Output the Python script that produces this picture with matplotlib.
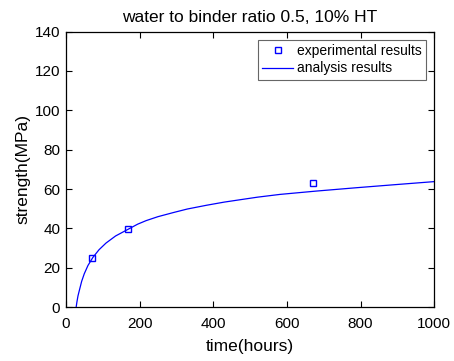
import matplotlib
matplotlib.use('Agg')
import matplotlib.pyplot as plt

# experimental points
exp_time = [72, 168, 672]
exp_strength = [25.0, 39.5, 63.3]

# analysis curve
fit_time = [28, 30, 33, 37, 43, 50, 60, 73, 90, 109, 135, 168, 195, 218, 250, 292, 330, 382,
            430, 473, 520, 581, 680, 789, 890, 1000]
fit_strength = [0.0, 2.6, 5.8, 8.8, 13.2, 17.0, 21.2, 25.2, 29.2, 32.6, 36.2, 39.5, 42.2, 44.0,
                46.0, 48.1, 49.9, 51.8, 53.4, 54.6, 55.9, 57.3, 59.0, 60.7, 62.2, 63.8]

plt.rcParams['font.family'] = ['Liberation Sans', 'DejaVu Sans']

fig = plt.figure(figsize=(4.54, 3.61), dpi=100)
ax = fig.add_axes([0.145, 0.1488, 0.8116, 0.7639])

ax.plot(exp_time, exp_strength, 's', mfc='none', mec='#0000ff', ms=5, mew=1.0,
        label='experimental results')
ax.plot(fit_time, fit_strength, '-', color='#0000ff', lw=0.9, label='analysis results')

ax.set_xlim(0, 1000)
ax.set_ylim(0, 140)
ax.set_xticks(range(0, 1001, 200))
ax.set_yticks(range(0, 141, 20))
ax.tick_params(direction='in', top=True, right=True, length=4, width=0.8,
               labelsize=11, pad=4, colors='black')
ax.tick_params(axis='x', pad=7)
for s in ax.spines.values():
    s.set_linewidth(0.9)

ax.set_xlabel('time(hours)', fontsize=12.5, labelpad=6)
ax.set_ylabel('strength(MPa)', fontsize=12.5, labelpad=3)
ax.set_title('water to binder ratio 0.5, 10% HT', fontsize=12.5, pad=7)

leg = ax.legend(loc='upper right', fontsize=10, frameon=True, fancybox=False,
                borderaxespad=0.6, handlelength=2.2, handletextpad=0.3,
                borderpad=0.3, labelspacing=0.25)
leg.get_frame().set_edgecolor('#404040')
leg.get_frame().set_linewidth(0.8)

fig.savefig('out.png', dpi=100)
